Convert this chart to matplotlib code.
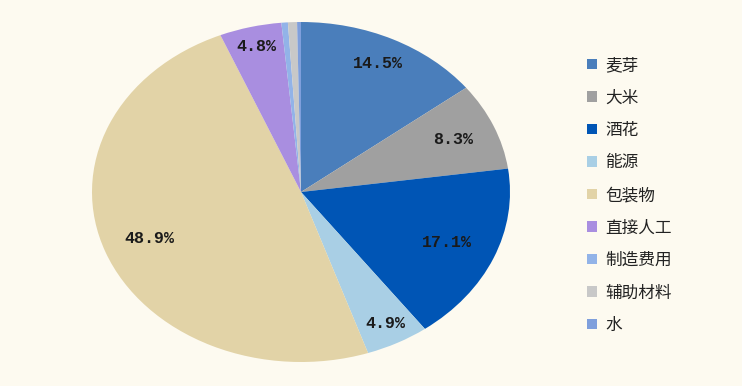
import matplotlib
matplotlib.use("Agg")
import matplotlib.pyplot as plt
import numpy as np

categories = ["麦芽", "大米", "酒花", "能源", "包装物", "直接人工", "制造费用", "辅助材料", "水"]
values = [14.5, 8.3, 17.1, 4.9, 48.9, 4.8, 0.5, 0.7, 0.3]
shown_labels = ["14.5%", "8.3%", "17.1%", "4.9%", "48.9%", "4.8%", "", "", ""]
label_dist = [0.84, 0.79, 0.76, 0.87, 0.775, 0.88, 0, 0, 0]
colors = ["#4a7ebb", "#a0a0a0", "#0055b5", "#a9cfe5", "#e2d3a7",
          "#a98ee0", "#92b3e8", "#c8c8c8", "#7f9fdc"]

plt.rcParams['font.family'] = ['Noto Sans CJK SC', 'DejaVu Sans']
bg = "#fdfaf0"
fig = plt.figure(figsize=(7.42, 3.86), dpi=100, facecolor=bg)
ax = fig.add_axes([92/742, 24/386, 418/742, 340/386])
ax.set_facecolor(bg)

wedges, _ = ax.pie(values, colors=colors, startangle=90, counterclock=False,
                   radius=1.0, wedgeprops=dict(linewidth=0))
ax.set_aspect('auto')
ax.set_xlim(-1, 1)
ax.set_ylim(-1, 1)
ax.axis('off')

for w, lab, d in zip(wedges, shown_labels, label_dist):
    if not lab:
        continue
    ang = np.deg2rad((w.theta1 + w.theta2) / 2)
    ax.text(d * np.cos(ang), d * np.sin(ang), lab, ha='center', va='center',
            fontsize=12, family=['Liberation Mono', 'DejaVu Sans Mono'],
            fontweight='bold', color='#1a1a1a')

leg = fig.legend(wedges, categories, loc='upper left',
                 bbox_to_anchor=(572/742, 1 - 42/386), frameon=False,
                 handlelength=0.6, handleheight=0.6, handletextpad=0.5,
                 labelspacing=0.93, fontsize=12)
for t in leg.get_texts():
    t.set_color('#222222')

fig.savefig("out.png", dpi=100, facecolor=bg)
